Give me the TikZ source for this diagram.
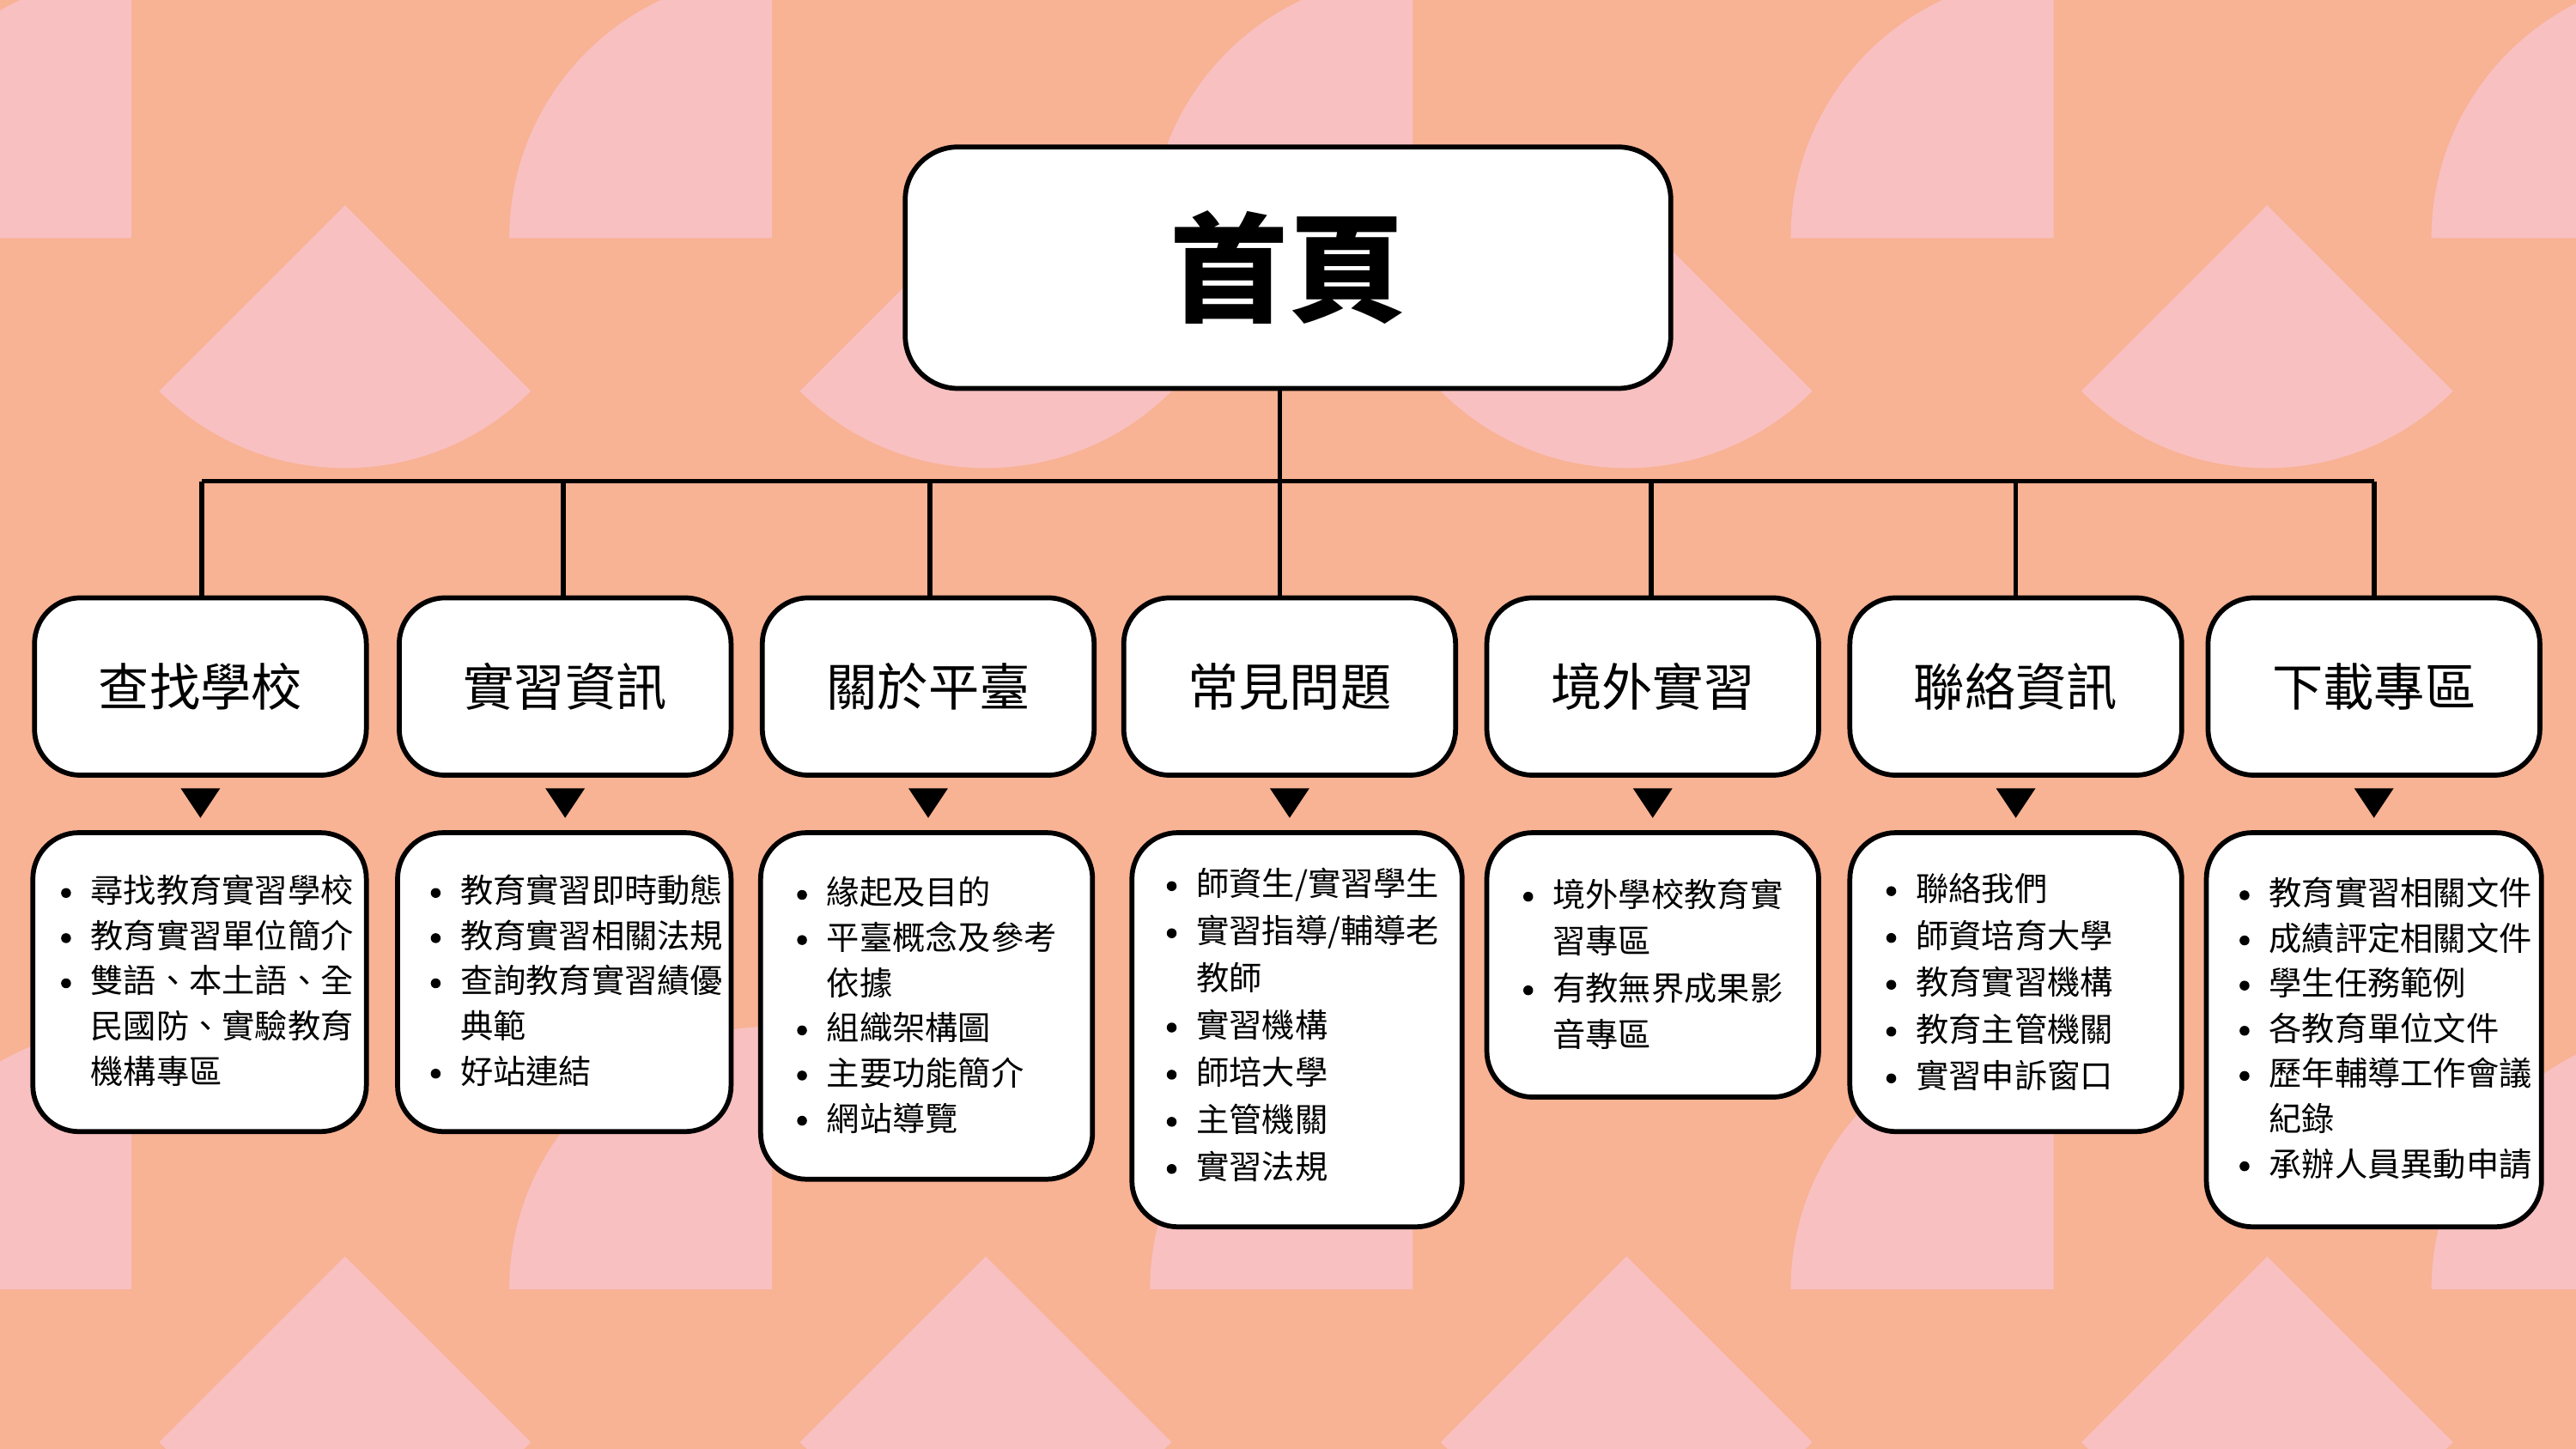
\documentclass[tikz,border=0pt]{standalone}
\usepackage{fontspec}
\setmainfont{Noto Sans CJK TC}
\newfontfamily\dotfont{DejaVu Sans}
\newcommand{\bulA}{\makebox[18pt][l]{\dotfont\fontsize{16}{16}\selectfont●}}
\newcommand{\conA}{\hspace*{18pt}}
\begin{document}
\begin{tikzpicture}[x=1pt,y=-1pt,
  boxs/.style={draw=black,line width=3pt,fill=white,rounded corners=28pt},
  ttl/.style={font=\fontsize{31}{34}\selectfont},
  lst/.style={anchor=west,align=left,inner sep=0pt,font=\fontsize{20}{27.5}\selectfont},
  tri/.style={fill=black}]
\definecolor{bg}{RGB}{248,178,148}
\definecolor{pk}{RGB}{248,192,192}
\renewcommand{\bulA}{\makebox[18pt][l]{\raisebox{3pt}{\tikz[x=1pt,y=1pt]\fill (0,0) circle (3pt);}}}
\useasboundingbox (0,0) rectangle (1568,882);
\fill[bg] (0,0) rectangle (1568,882);
\begin{scope}
\clip (0,0) rectangle (1568,882);
\foreach \ox in {-390,0,390,780,1170,1560}{
 \foreach \oy in {-640,0,640}{
  \fill[pk] (\ox+470,\oy+145) -- (\ox+310,\oy+145) arc[start angle=180,end angle=270,radius=160] -- cycle;
  \fill[pk] (\ox+210,\oy+125) -- ++(135:160) arc[start angle=135,end angle=45,radius=160] -- cycle;
 }}
\end{scope}
% title
\node[boxs,minimum width=466pt,minimum height=147pt,rounded corners=32pt] (home) at (784,163) {};
\node[font=\fontsize{72}{80}\selectfont\bfseries] (hometxt) at (home.center) {首頁};
\coordinate (ht) at (779,237);
\coordinate (hb) at (779,293);
\coordinate (hl) at (123,293);
\coordinate (hr) at (1445,293);
\draw[line width=3pt] (ht) -- (hb);
\draw[line width=3pt] (hl) -- (hr);
\foreach \n/\cx/\lx/\t in {a/122/123/查找學校,b/344/343/實習資訊,c/565/566/關於平臺,d/785/779/常見問題,e/1006/1005/境外實習,f/1227/1227/聯絡資訊,g/1445/1445/下載專區}{
  \draw[line width=3pt] (\lx,293) -- (\lx,365);
  \node[boxs,ttl,minimum width=202pt,minimum height=108pt] (\n) at (\cx,418) {\t};
  \fill[tri] (\cx-12,480) -- (\cx+12,480) -- (\cx,498) -- cycle;
}
% detail boxes
\node[boxs,minimum width=203pt,minimum height=182pt] (da) at (121.5,598) {};
\node[boxs,minimum width=203pt,minimum height=182pt] (db) at (343.5,598) {};
\node[boxs,minimum width=202pt,minimum height=211pt] (dc) at (564,612.5) {};
\node[boxs,minimum width=201pt,minimum height=240pt] (dd) at (789.5,627) {};
\node[boxs,minimum width=202pt,minimum height=161pt] (de) at (1006,587.5) {};
\node[boxs,minimum width=202pt,minimum height=182pt] (df) at (1227,598) {};
\node[boxs,minimum width=204pt,minimum height=240pt] (dg) at (1445,627) {};
\node[lst] (ta) at (37,597) {\bulA{}尋找教育實習學校\\\bulA{}教育實習單位簡介\\\bulA{}雙語、本土語、全\\\conA{}民國防、實驗教育\\\conA{}機構專區};
\node[lst] (tb) at (262,597) {\bulA{}教育實習即時動態\\\bulA{}教育實習相關法規\\\bulA{}查詢教育實習績優\\\conA{}典範\\\bulA{}好站連結};
\node[lst] (tc) at (485,612) {\bulA{}緣起及目的\\\bulA{}平臺概念及參考\\\conA{}依據\\\bulA{}組織架構圖\\\bulA{}主要功能簡介\\\bulA{}網站導覽};
\node[lst,font=\fontsize{20}{28.7}\selectfont] (td) at (710,624) {\bulA{}師資生/實習學生\\\bulA{}實習指導/輔導老\\\conA{}教師\\\bulA{}實習機構\\\bulA{}師培大學\\\bulA{}主管機關\\\bulA{}實習法規};
\node[lst,font=\fontsize{20}{28.5}\selectfont] (te) at (927,587) {\bulA{}境外學校教育實\\\conA{}習專區\\\bulA{}有教無界成果影\\\conA{}音專區};
\node[lst,font=\fontsize{20}{28.5}\selectfont] (tf) at (1148,598) {\bulA{}聯絡我們\\\bulA{}師資培育大學\\\bulA{}教育實習機構\\\bulA{}教育主管機關\\\bulA{}實習申訴窗口};
\node[lst] (tg) at (1363,626) {\bulA{}教育實習相關文件\\\bulA{}成績評定相關文件\\\bulA{}學生任務範例\\\bulA{}各教育單位文件\\\bulA{}歷年輔導工作會議\\\conA{}紀錄\\\bulA{}承辦人員異動申請};
\end{tikzpicture}
\end{document}
